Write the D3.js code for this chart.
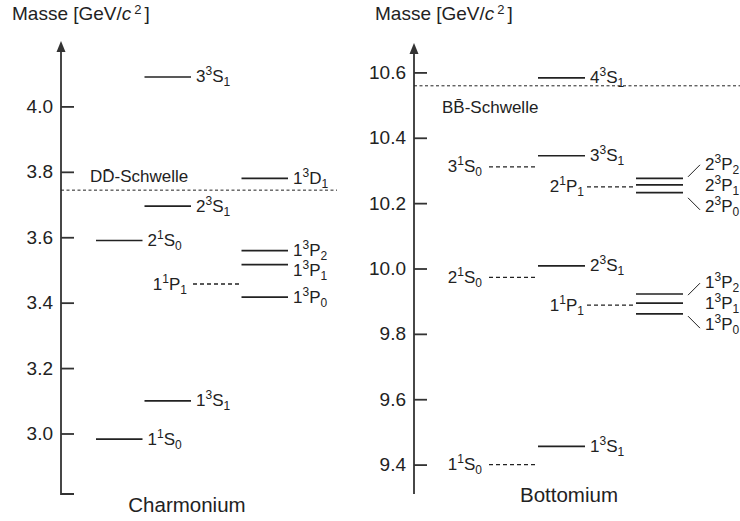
<!DOCTYPE html>
<html><head><meta charset="utf-8">
<script src="https://cdn.jsdelivr.net/npm/d3@7"></script>
<style>
  body { margin: 0; background: #fff; }
  svg { display: block; }
  text { font-family: "Liberation Sans", Arial, Helvetica, sans-serif; fill: #222; }
</style>
</head><body>
<svg id="chart" width="740" height="521"></svg>
<script>
// ---- Charmonium (c c-bar) levels, masses in GeV/c^2 ----
const charmNames    = ["1^1S_0", "1^3S_1", "2^1S_0", "2^3S_1", "3^3S_1", "1^1P_1", "1^3P_0", "1^3P_1", "1^3P_2", "1^3D_1"];
const charmMasses   = [2.983, 3.100, 3.590, 3.695, 4.090, 3.457, 3.417, 3.516, 3.559, 3.780];
const charmObserved = [true, true, true, true, true, false, true, true, true, true];
const charmThreshold = 3.744;
const charmTicks = [3.0, 3.2, 3.4, 3.6, 3.8, 4.0];

// ---- Bottomium (b b-bar) levels ----
const bottomNames    = ["1^1S_0", "1^3S_1", "2^1S_0", "2^3S_1", "3^1S_0", "3^3S_1", "4^3S_1",
                        "1^1P_1", "1^3P_0", "1^3P_1", "1^3P_2", "2^1P_1", "2^3P_0", "2^3P_1", "2^3P_2"];
const bottomMasses   = [9.400, 9.456, 9.973, 10.008, 10.311, 10.345, 10.583,
                        9.888, 9.861, 9.894, 9.922, 10.250, 10.232, 10.256, 10.276];
const bottomObserved = [false, true, false, true, false, true, true,
                        false, true, true, true, false, true, true, true];
const bottomThreshold = 10.559;
const bottomTicks = [9.4, 9.6, 9.8, 10.0, 10.2, 10.4, 10.6];

const INK = "#222";
const svg = d3.select("#chart");

// column of a level in the diagram, by spin multiplet and orbital momentum
function columnOf(name) {
  const mult = name[2], L = name[3];
  if (L === "S") return mult === "1" ? "singletS" : "tripletS";
  if (L === "P" && mult === "1") return "singletP";
  return "tripletPD";
}
const columns = ["singletS", "tripletS", "singletP", "tripletPD"];

// spectroscopic term  n^(2S+1) L_J  as text with sup/subscripts
function writeTerm(text, name, size) {
  const n = name[0], mult = name[2], L = name[3], J = name[5];
  const small = Math.round(size * 0.68);
  text.attr("font-size", size);
  text.append("tspan").text(n);
  text.append("tspan").attr("font-size", small).attr("dy", -7).text(mult);
  text.append("tspan").attr("dy", 7).text(L);
  text.append("tspan").attr("font-size", small).attr("dy", 4).text(J);
}

function drawAxis(x0, y, ticks, domain, bottomTick) {
  const g = svg.append("g").attr("transform", `translate(${x0},0)`);
  g.call(d3.axisLeft(y).tickValues(ticks).tickFormat(d3.format(".1f"))
    .tickSize(-13).tickSizeOuter(0).tickPadding(8));
  g.attr("font-family", null).attr("font-size", null);
  g.select(".domain").remove();
  g.selectAll(".tick line").attr("stroke", "#333").attr("stroke-width", 1.8);
  g.selectAll(".tick text").attr("font-size", 19).attr("fill", INK);
  const top = y(domain[1]), bot = y(domain[0]);
  const p = d3.path();
  p.moveTo(0, top + 8); p.lineTo(0, bot);
  if (bottomTick) p.lineTo(13, bot);
  g.append("path").attr("d", p.toString()).attr("fill", "none")
    .attr("stroke", "#333").attr("stroke-width", 1.8);
  g.append("path").attr("d", `M0,${top}L-4.5,${top + 11}L4.5,${top + 11}Z`).attr("fill", "#333");
  return g;
}

function drawTitle(x) {
  const t = svg.append("text").attr("x", x).attr("y", 20).attr("font-size", 19);
  t.append("tspan").text("Masse [GeV/");
  t.append("tspan").attr("font-style", "italic").text("c");
  t.append("tspan").attr("font-size", 13).attr("dx", 3).attr("dy", -6).text("2");
  t.append("tspan").attr("dx", 3).attr("dy", 6).text("]");
}

function levelLine(x1, x2, yy, observed) {
  svg.append("line").attr("x1", x1).attr("x2", x2).attr("y1", yy).attr("y2", yy)
    .attr("stroke", INK).attr("stroke-width", observed ? 1.7 : 1.3)
    .attr("stroke-dasharray", observed ? null : "4,3");
}

// ================= Charmonium panel =================
{
  const axisX = 61;
  const domain = [2.815, 4.2];
  const y = d3.scaleLinear().domain(domain).range([494, 41]);
  const x = d3.scaleBand().domain(columns).range([96, 290]);
  const labelShift = { "1^3P_1": 6 };

  drawTitle(12);
  drawAxis(axisX, y, charmTicks, domain, true);

  // open-charm threshold
  const ty = y(charmThreshold);
  svg.append("line").attr("x1", axisX).attr("x2", 337).attr("y1", ty).attr("y2", ty)
    .attr("stroke", INK).attr("stroke-width", 1).attr("stroke-dasharray", "3,2.5");
  svg.append("text").attr("x", 90).attr("y", ty - 8).attr("font-size", 17).text("DD\u0304-Schwelle");

  charmNames.forEach((name, i) => {
    const col = columnOf(name);
    const yy = y(charmMasses[i]);
    const x1 = x(col), x2 = x(col) + x.bandwidth() - 2;
    levelLine(x1, x2, yy, charmObserved[i]);
    const t = svg.append("text").attr("y", yy + 5.5 + (labelShift[name] || 0));
    if (col === "singletP") t.attr("x", x1 - 6).attr("text-anchor", "end");
    else t.attr("x", x2 + 5);
    writeTerm(t, name, 17);
  });

  svg.append("text").attr("x", 187).attr("y", 512).attr("text-anchor", "middle")
    .attr("font-size", 20.5).text("Charmonium");
}

// ================= Bottomium panel =================
{
  const axisX = 414;
  const domain = [9.31, 10.69];
  const y = d3.scaleLinear().domain(domain).range([494, 43]);
  const x = d3.scaleBand().domain(columns).range([489, 685]);

  drawTitle(375);
  drawAxis(axisX, y, bottomTicks, domain, false);

  // open-bottom threshold
  const ty = y(bottomThreshold);
  svg.append("line").attr("x1", axisX).attr("x2", 740).attr("y1", ty).attr("y2", ty)
    .attr("stroke", INK).attr("stroke-width", 1).attr("stroke-dasharray", "3,2.5");
  svg.append("text").attr("x", 442).attr("y", ty + 27).attr("font-size", 17).text("BB\u0304-Schwelle");

  bottomNames.forEach((name, i) => {
    const col = columnOf(name);
    const yy = y(bottomMasses[i]);
    const x1 = x(col), x2 = x(col) + x.bandwidth() - 2;
    levelLine(x1, x2, yy, bottomObserved[i]);
    if (col === "tripletPD") return;
    const t = svg.append("text").attr("y", yy + 5.5);
    if (name[2] === "1") t.attr("x", x1 - (col === "singletP" ? 3 : 7)).attr("text-anchor", "end");
    else t.attr("x", x2 + 5);
    writeTerm(t, name, 17);
  });

  // fine-structure triplets: labels fanned out to the right
  const xe = x("tripletPD") + x.bandwidth() - 2;
  ["1", "2"].forEach(n => {
    const mid = y(bottomMasses[bottomNames.indexOf(`${n}^3P_1`)]);
    [["2", -15], ["1", 6], ["0", 27]].forEach(([J, dy]) => {
      const t = svg.append("text").attr("x", xe + 22).attr("y", mid + dy);
      writeTerm(t, `${n}^3P_${J}`, 17);
    });
    svg.append("line").attr("x1", xe + 5).attr("y1", mid - 8).attr("x2", xe + 17).attr("y2", mid - 20)
      .attr("stroke", INK).attr("stroke-width", 1);
    svg.append("line").attr("x1", xe + 5).attr("y1", mid + 13).attr("x2", xe + 17).attr("y2", mid + 25)
      .attr("stroke", INK).attr("stroke-width", 1);
  });

  svg.append("text").attr("x", 569).attr("y", 502).attr("text-anchor", "middle")
    .attr("font-size", 20.5).text("Bottomium");
}
</script>
</body></html>
